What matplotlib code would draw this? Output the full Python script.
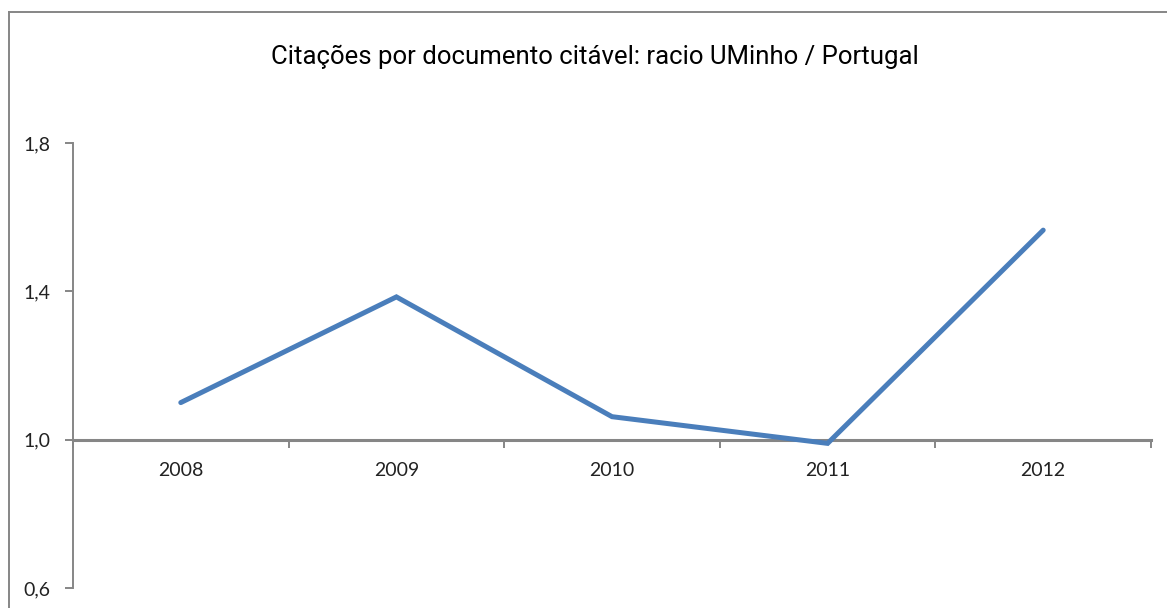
import numpy as np
import matplotlib
matplotlib.use("Agg")
import matplotlib.pyplot as plt
from matplotlib.lines import Line2D

# data
years = ["2008", "2009", "2010", "2011", "2012"]
ratio = [1.10, 1.385, 1.062, 0.99, 1.565]
y_ticks = [0.6, 1.0, 1.4, 1.8]
y_labels = ["0,6", "1,0", "1,4", "1,8"]

W, H = 1167, 608
fig = plt.figure(figsize=(W / 100, H / 100), dpi=100)

gray = "#868686"
text_col = "#222222"

# chart frame (cut off at right and bottom in the reference)
fig.add_artist(Line2D([9 / W, 9 / W], [0, 1 - 12 / H], color=gray, lw=1.4,
                      transform=fig.transFigure))
fig.add_artist(Line2D([9 / W, 1.0], [1 - 12 / H, 1 - 12 / H], color=gray, lw=1.4,
                      transform=fig.transFigure))

left, right = 73 / W, 1151 / W
bottom, top = 1 - 588 / H, 1 - 143 / H
ax = fig.add_axes([left, bottom, right - left, top - bottom])

x = np.arange(1, len(years) + 1)
ax.plot(x, ratio, color="#4A7EBB", lw=3.6, solid_capstyle="round",
        solid_joinstyle="miter", zorder=3)

ax.set_xlim(0.5, len(years) + 0.5)
ax.set_ylim(0.6, 1.8)

for s in ["top", "right"]:
    ax.spines[s].set_visible(False)
ax.spines["left"].set_color(gray)
ax.spines["left"].set_linewidth(1.4)
ax.spines["bottom"].set_color(gray)
ax.spines["bottom"].set_linewidth(2.2)
ax.spines["bottom"].set_position(("data", 1.0))

ax.set_yticks(y_ticks)
ax.set_yticklabels(y_labels)
ax.tick_params(axis="y", direction="out", length=6, width=1.4, color=gray,
               labelsize=14, labelcolor=text_col, pad=10)

ax.set_xticks(x)
ax.set_xticklabels(years)
ax.set_xticks(np.arange(0.5, len(years) + 1), minor=True)
ax.tick_params(axis="x", which="major", length=0, labelsize=14,
               labelcolor=text_col, pad=16)
ax.tick_params(axis="x", which="minor", direction="out", length=6, width=1.4,
               color=gray)

for lab in ax.get_xticklabels() + ax.get_yticklabels():
    lab.set_family(["Lato", "DejaVu Sans"])

fig.text(595 / W, 1 - 57 / H, "Citações por documento citável: racio UMinho / Portugal",
         ha="center", va="center", fontsize=18.5, color="#000000",
         family=["Roboto", "DejaVu Sans"])

fig.savefig("out.png", dpi=100)
